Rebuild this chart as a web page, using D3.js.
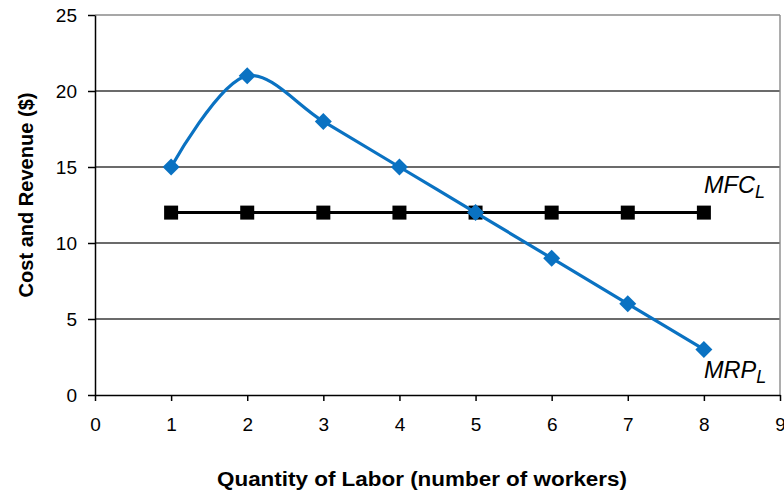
<!DOCTYPE html>
<html><head><meta charset="utf-8">
<script src="https://cdn.jsdelivr.net/npm/d3@7"></script>
<style>body{margin:0;background:#fff;font-family:"Liberation Sans",Arial,sans-serif;}</style>
</head><body><svg id="c" width="784" height="494"></svg>
<script>
const workers = [1,2,3,4,5,6,7,8];
const mrp = [15,21,18,15,12,9,6,3];
const mfc = [12,12,12,12,12,12,12,12];
const xTicks = [0,1,2,3,4,5,6,7,8,9];
const yTicks = [0,5,10,15,20,25];

const svg = d3.select("#c");
const m = {l:95, r:780, t:15, b:395};
const x = d3.scaleLinear().domain([0,9]).range([m.l, m.r]);
const y = d3.scaleLinear().domain([0,25]).range([m.b, m.t]);

// gridlines
svg.append("g").selectAll("line").data(yTicks.filter(d=>d>0)).join("line")
  .attr("x1", m.l).attr("x2", m.r).attr("y1", d=>y(d)).attr("y2", d=>y(d))
  .attr("stroke", d=>d===25?"#8a8a8a":"#3a3a3a").attr("stroke-width", 1.4);
// right border
svg.append("line").attr("x1", m.r).attr("x2", m.r).attr("y1", m.t).attr("y2", m.b)
  .attr("stroke","#8a8a8a").attr("stroke-width",1.4);

const xa = svg.append("g").attr("transform",`translate(0,${m.b})`)
  .call(d3.axisBottom(x).tickValues(xTicks).tickSizeInner(6).tickSizeOuter(0).tickPadding(8).tickFormat(d3.format("d")));
const ya = svg.append("g").attr("transform",`translate(${m.l},0)`)
  .call(d3.axisLeft(y).tickValues(yTicks).tickSizeInner(7).tickSizeOuter(0).tickPadding(11).tickFormat(d3.format("d")));
[xa,ya].forEach(a=>{
  a.selectAll("text").attr("font-size",19).attr("fill","#000").attr("font-family","Liberation Sans, Arial, sans-serif");
  a.selectAll("line,path").attr("stroke","#000").attr("stroke-width",1.5);
});
xa.selectAll("text").attr("y",0).attr("dy",null).attr("dominant-baseline",null)
  .attr("transform","translate(0,36)");
ya.selectAll("text").attr("dy","0.36em");

// MFC line
const mfcData = workers.map((w,i)=>[w,mfc[i]]);
svg.append("path").datum(mfcData)
  .attr("d", d3.line().x(d=>x(d[0])).y(d=>y(d[1])))
  .attr("fill","none").attr("stroke","#000").attr("stroke-width",3);
svg.append("g").selectAll("rect").data(mfcData).join("rect")
  .attr("x", d=>x(d[0])-7).attr("y", d=>y(d[1])-7).attr("width",14).attr("height",14).attr("fill","#000");

// MRP line
const blue = "#0A72C2";
const mrpData = workers.map((w,i)=>[w,mrp[i]]);
svg.append("path").datum(mrpData)
  .attr("d", d3.line().curve(d3.curveCatmullRom.alpha(0.5)).x(d=>x(d[0])).y(d=>y(d[1])))
  .attr("fill","none").attr("stroke",blue).attr("stroke-width",3.2);
svg.append("g").selectAll("path").data(mrpData).join("path")
  .attr("d", "M0,-8.5L8.5,0L0,8.5L-8.5,0Z")
  .attr("transform", d=>`translate(${x(d[0])},${y(d[1])})`)
  .attr("fill",blue);

// labels
function subLabel(px, py, main){
  const t = svg.append("text").attr("x",px).attr("y",py).attr("font-size",23.5).attr("font-style","italic").attr("fill","#000");
  t.append("tspan").text(main);
  t.append("tspan").attr("dy",5).attr("font-size",18).text("L");
}
subLabel(704, 193, "MFC");
subLabel(704, 378, "MRP");

svg.append("text").attr("x",422).attr("y",486).attr("text-anchor","middle")
  .attr("font-size",19.5).attr("font-weight","bold")
  .attr("textLength",410).attr("lengthAdjust","spacingAndGlyphs")
  .text("Quantity of Labor (number of workers)");
svg.append("text").attr("transform","translate(33,195) rotate(-90)").attr("text-anchor","middle")
  .attr("font-size",19.5).attr("font-weight","bold")
  .attr("textLength",205).attr("lengthAdjust","spacingAndGlyphs")
  .text("Cost and Revenue ($)");
</script></body></html>
